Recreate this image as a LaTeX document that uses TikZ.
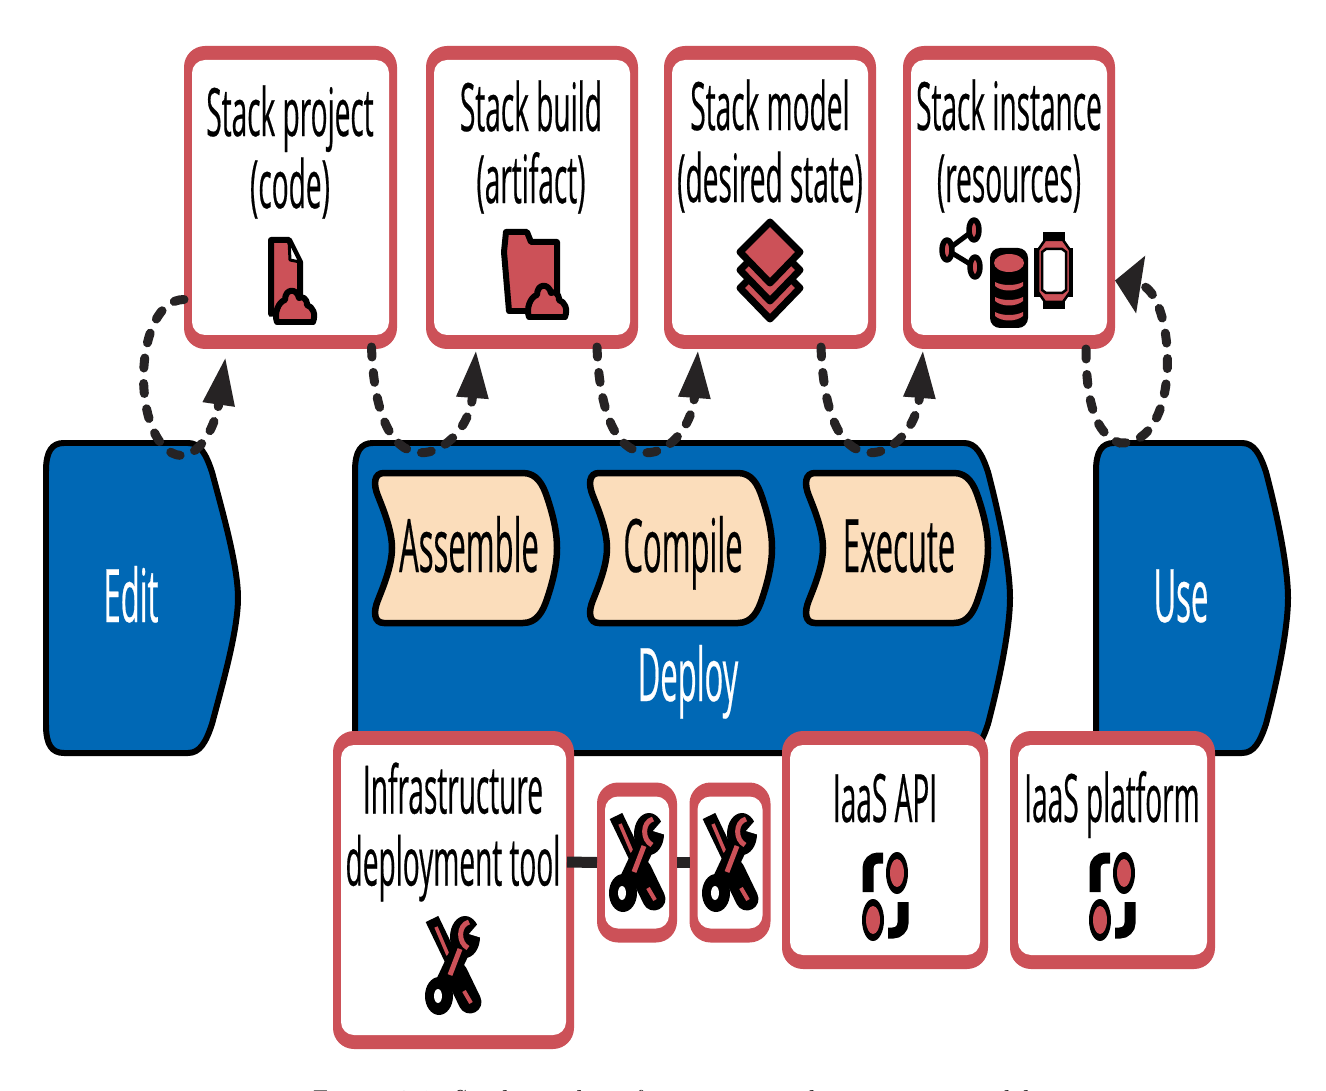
\documentclass[tikz,border=0pt]{standalone}
\usepackage{fontspec}
\newfontfamily\squeezed[FakeStretch=0.42,FakeBold=0.3]{Open Sans}
\usetikzlibrary{positioning, calc, arrows.meta}
\definecolor{boxred}{HTML}{CC5158}
\definecolor{stageblue}{HTML}{0068B5}
\definecolor{peach}{HTML}{FBDDBB}
\definecolor{flowdark}{HTML}{262324}
\tikzset{
  boxouter/.style={fill=boxred, rounded corners=.42cm, inner sep=0pt, outer sep=0pt},
  boxtext/.style={font=\squeezed\fontsize{38}{41}\selectfont, align=center, inner sep=0pt},
  stagetext/.style={font=\squeezed\fontsize{42}{44}\selectfont, inner sep=0pt, anchor=base},
  blueshape/.style={draw=black, fill=stageblue, line width=.12cm},
  peachshape/.style={draw=black, fill=peach, line width=.13cm},
  icon/.style={draw=black, fill=boxred, line width=.12cm, line join=round},
  flow/.style={draw=flowdark, line width=.18cm, line cap=round, dash pattern=on .2cm off .31cm},
  bigtip/.style={-{Triangle[length=.96cm,width=.6cm,fill=flowdark,color=flowdark]}},
  cloud/.pic={
    \draw[icon] (1,0) -- (37,0) .. controls (40,-8) and (37,-15) .. (31,-17)
      .. controls (31,-24) and (26,-26) .. (23,-24) .. controls (21,-34) and (9,-34) .. (9,-22)
      .. controls (2,-20) and (-2,-8) .. (1,0) -- cycle;
  },
  wrench/.pic={
    \draw[black, line width=.28cm] (-21,-46) -- (3,4);
    \draw[black, line width=.46cm, line cap=round] (3,8) -- (17,37);
    \draw[boxred, line width=.07cm] (-17,-38) -- (-5,-10);
    \draw[boxred, line width=.08cm] (11,26) -- (18,38);
    \fill[black] (-14,31) ellipse [x radius=14, y radius=19];
    \fill[white] (-15,31) ellipse [x radius=4, y radius=7];
    \draw[black, line width=.38cm] (-7,16) -- (9,-18);
    \fill[black] (12,-28) ellipse [x radius=15, y radius=21];
    \draw[boxred, line width=.1cm] (16,-43) .. controls (5,-40) and (5,-22) .. (15,-17);
    \draw[boxred, line width=.1cm] (7,-16) -- (-3,10);
    \fill[white] (16,-31) -- (29,-46) -- (29,-27) -- cycle;
  },
  apiicon/.pic={
    \draw[black, line width=.22cm, rounded corners=.2cm] (-2,-39) -- (-17,-39) -- (-17,-5);
    \draw[black, line width=.22cm, rounded corners=.2cm] (18,5) -- (18,36) -- (3,36);
    \fill[black] (12,-24) ellipse [x radius=11, y radius=21];
    \fill[boxred] (12,-24) ellipse [x radius=7, y radius=14];
    \fill[black] (-12,23) ellipse [x radius=11, y radius=21];
    \fill[boxred] (-12,23) ellipse [x radius=7, y radius=14];
  }
}
\newcommand{\redbox}[5]{
  \node[boxouter, minimum width=#4*.02cm, minimum height=#5*.02cm] (#1) at (#2,#3) {};
  \fill[white, rounded corners=.26cm] ($(#1.south west)+(8,-14)$) rectangle ($(#1.north east)+(-8,14)$);
}
\begin{document}
\begin{tikzpicture}[x=.02cm, y=-.02cm]
  \useasboundingbox (0,0) rectangle (1326,1091);
  \fill[white] (0,0) rectangle (1326,1091);

  \foreach \xa/\xb/\xc in {46/188/238, 355/964/1010, 1096/1242/1288}
    \draw[blueshape] ({\xa+18},443) -- (\xb,443) .. controls ({\xb+12},443) and ({\xb+18},454) .. ({\xb+24},472)
      .. controls ({\xb+34},510) and (\xc,565) .. (\xc,598)
      .. controls (\xc,631) and ({\xb+34},686) .. ({\xb+24},724)
      .. controls ({\xb+18},742) and ({\xb+12},753) .. (\xb,753)
      -- ({\xa+18},753) .. controls ({\xa+6},753) and (\xa,745) .. (\xa,725)
      -- (\xa,471) .. controls (\xa,451) and ({\xa+6},443) .. ({\xa+18},443) -- cycle;
  \foreach \xa in {375, 590, 806}
    \draw[peachshape] ({\xa+9},473) -- ({\xa+148},473) .. controls ({\xa+162},473) and ({\xa+168},485) .. ({\xa+172},497)
      .. controls ({\xa+177},512) and ({\xa+182},530) .. ({\xa+182},548)
      .. controls ({\xa+182},566) and ({\xa+177},584) .. ({\xa+172},599)
      .. controls ({\xa+168},611) and ({\xa+162},623) .. ({\xa+148},623)
      -- ({\xa+9},623) .. controls ({\xa-1},623) and ({\xa-2},612) .. ({\xa+3},600)
      .. controls ({\xa+9},585) and ({\xa+17},565) .. ({\xa+17},548)
      .. controls ({\xa+17},531) and ({\xa+9},511) .. ({\xa+3},496)
      .. controls ({\xa-2},484) and ({\xa-1},473) .. ({\xa+9},473) -- cycle;

  \node[stagetext, text=white] (edit) at (131,622) {Edit};
  \node[stagetext, text=white] (deploy) at (688,701) {Deploy};
  \node[stagetext, text=white] (use) at (1181,622) {Use};
  \node[stagetext] (assemble) at (469,572) {Assemble};
  \node[stagetext] (compile) at (683,572) {Compile};
  \node[stagetext] (execute) at (899,572) {Execute};

  \redbox{project}{290.5}{197.5}{213}{303}
  \redbox{build}{532}{197.5}{212}{303}
  \redbox{model}{770}{197.5}{212}{303}
  \redbox{instance}{1009}{197.5}{212}{303}
  \redbox{tool}{453.5}{890}{241}{318}
  \redbox{toolone}{637}{862.5}{80}{160}
  \redbox{tooltwo}{730}{862.5}{81}{160}
  \redbox{api}{885}{850}{206}{238}
  \redbox{platform}{1112.5}{850}{205}{238}

  \draw[flowdark, line width=.22cm] (tool.east) ++(-7,-28) -- (toolone.west);
  \draw[flowdark, line width=.22cm] (toolone.east) -- (tooltwo.west);

  \node[boxtext] (projecttext) at (290,152) {Stack project\\(code)};
  \node[boxtext] (buildtext) at (531,147) {Stack build\\(artifact)};
  \node[boxtext] (modeltext) at (770,146) {Stack model\\(desired state)};
  \node[boxtext] (instancetext) at (1009,146) {Stack instance\\(resources)};
  \node[boxtext] (tooltext) at (453,832) {Infrastructure\\deployment tool};
  \node[boxtext, anchor=base] (apitext) at (885,822) {IaaS API};
  \node[boxtext, anchor=base] (platformtext) at (1112,822) {IaaS platform};

  \draw[icon] (271,240) -- (289,240) -- (300,262) -- (300,300) -- (271,314) -- cycle;
  \draw[icon, fill=white, line width=.06cm] (289,240) -- (290,260) -- (300,262) -- cycle;
  \pic at (276,322) {cloud};
  \draw[icon] (506,232) -- (527,232) -- (531,242) -- (557,242) -- (557,300) -- (557,311) -- (509,311) -- (504,252) -- cycle;
  \pic at (528,317) {cloud};
  \foreach \dy in {36, 18, 0}
    \draw[icon, line width=.14cm] (770,{222+\dy}) -- (800,{252+\dy}) -- (770,{283+\dy}) -- (740,{252+\dy}) -- cycle;

  \draw[black, line width=.1cm] (974,230) -- (947,250) -- (975,267);
  \foreach \cx/\cy in {947/250, 974/230, 975/267}
    \draw[icon, line width=.11cm] (\cx,\cy) ellipse [x radius=5, y radius=10];
  \fill[black, rounded corners=.2cm] (990,248) rectangle (1028,328);
  \fill[boxred] (1009,263) ellipse [x radius=15, y radius=9];
  \foreach \yb in {282, 297, 312}
    \fill[boxred] (995,\yb) .. controls (1002,{\yb+4}) and (1016,{\yb+4}) .. (1023,\yb)
      -- (1023,{\yb+4}) .. controls (1016,{\yb+10}) and (1002,{\yb+10}) .. (995,{\yb+4}) -- cycle;
  \fill[black] (1043,232) rectangle (1065,309);
  \fill[black] (1034,248) rectangle (1073,297);
  \draw[icon, line width=.05cm] (1045,240) -- (1063,240) -- (1070,250) -- (1070,292) -- (1063,302)
    -- (1045,302) -- (1038,292) -- (1038,250) -- cycle;
  \draw[black, fill=white, line width=.05cm] (1046,249) -- (1062,249) -- (1066,252) -- (1066,290) -- (1062,293)
    -- (1046,293) -- (1042,290) -- (1042,252) -- cycle;

  \pic at (453,965) {wrench};
  \pic at (637,862) {wrench};
  \pic at (730,862) {wrench};
  \pic at (885,897) {apiicon};
  \pic at (1112,897) {apiicon};

  \draw[flow, bigtip] ($(project.west)+(0,102)$) .. controls (135,300) and (130,430) .. (172,453)
    .. controls (195,465) and (215,430) .. ($(project.south)+(-65,8)$);
  \foreach \from/\sx/\to/\tx in {project/81/build/-56, build/65/model/-72, model/51/instance/-86}
    \draw[flow, bigtip] ($(\from.south)+(\sx,-2)$) .. controls ($(\from.south)+({\sx+2},50)$) and ($(\from.south)+({\sx+13},96)$)
      .. ($(\from.south)+({\sx+43},103)$) .. controls ($(\from.south)+({\sx+68},109)$) and ($(\to.south)+({\tx-6},80)$)
      .. ($(\to.south)+(\tx,1)$);
  \draw[flow, -{Triangle[length=.52cm,width=1.14cm,fill=flowdark,color=flowdark]}]
    ($(instance.south)+(77,0)$) .. controls (1086,400) and (1095,435) .. (1120,443)
    .. controls (1185,445) and (1175,290) .. ($(instance.east)+(0,83)$);

  \node[font=\itshape\fontsize{15.5}{18}\selectfont, anchor=base, inner sep=0pt] (caption) at (667,1109)
    {Figure 6-4. Stacks in the infrastructure code processing model};
\end{tikzpicture}
\end{document}
